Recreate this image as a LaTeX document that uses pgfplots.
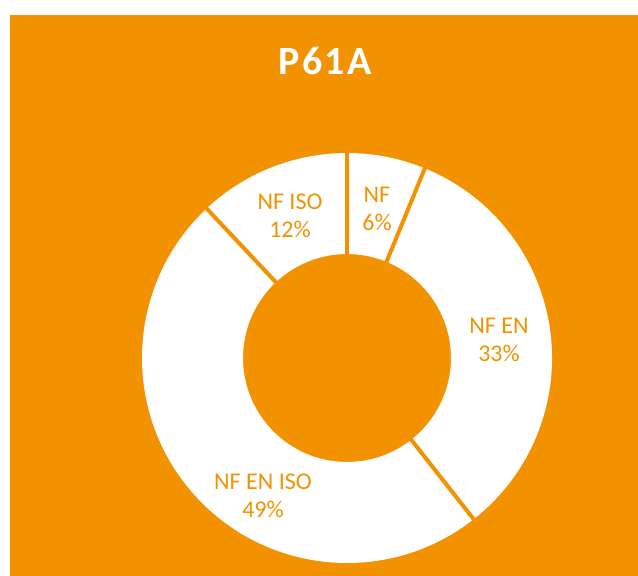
\documentclass[border=0pt]{standalone}
\usepackage{pgfplots}
\pgfplotsset{compat=1.18}
\usepackage{pgfplotstable}
\usepackage{fontspec}
\setmainfont{Carlito}
\definecolor{org}{HTML}{F39200}

\pgfplotstableread[col sep=comma]{
label,value,lx,ly
NF,6.2,377,367
NF EN,33.2,499,236
NF EN ISO,48.6,263,80
NF ISO,12.0,290,360
}\slices

\begin{document}
\begin{tikzpicture}
\begin{axis}[name=ax, scale only axis, width=638pt, height=576pt,
  xmin=0, xmax=638, ymin=0, ymax=576, hide axis, clip=false]
\pgfplotsextra{
  \fill[white] (axis cs:0,0) rectangle (axis cs:638,576);
  \fill[org] (axis cs:10,0) rectangle (axis cs:638,561);
  \node[white, font=\fontsize{40}{44}\selectfont\bfseries\addfontfeature{LetterSpace=6}, anchor=base] at (axis cs:325,501) {P61A};
  \coordinate (c) at (axis cs:347,218);
  \pgfplotstablegetrowsof{\slices}\let\n\pgfplotsretval
  \pgfmathtruncatemacro\last{\n-1}
  \xdef\acc{90}
  \foreach \i in {0,...,\last}{
    \pgfplotstablegetelem{\i}{value}\of\slices \let\v\pgfplotsretval
    \pgfplotstablegetelem{\i}{label}\of\slices \let\lab\pgfplotsretval
    \pgfplotstablegetelem{\i}{lx}\of\slices \let\lx\pgfplotsretval
    \pgfplotstablegetelem{\i}{ly}\of\slices \let\ly\pgfplotsretval
    \pgfmathsetmacro\aend{\acc-3.6*\v}
    \fill[white] ([shift={(\acc:205pt)}]c) arc[start angle=\acc, end angle=\aend, radius=205pt]
      -- ([shift={(\aend:104pt)}]c) arc[start angle=\aend, end angle=\acc, radius=104pt] -- cycle;
    \node[org, align=center, font=\fontsize{24}{28.5}\selectfont] at (axis cs:\lx,\ly)
      {\lab\\\pgfmathprintnumber[fixed,precision=0,assume math mode=true]{\v}\%};
    \xdef\acc{\aend}
  }
  \xdef\acc{90}
  \foreach \i in {0,...,\last}{
    \pgfplotstablegetelem{\i}{value}\of\slices \let\v\pgfplotsretval
    \draw[org, line width=4pt] (c) -- ([shift={(\acc:206pt)}]c);
    \pgfmathsetmacro\aend{\acc-3.6*\v}
    \xdef\acc{\aend}
  }
}
\end{axis}
\pgfresetboundingbox
\path[use as bounding box] (ax.south west) rectangle (ax.north east);
\end{tikzpicture}
\end{document}
